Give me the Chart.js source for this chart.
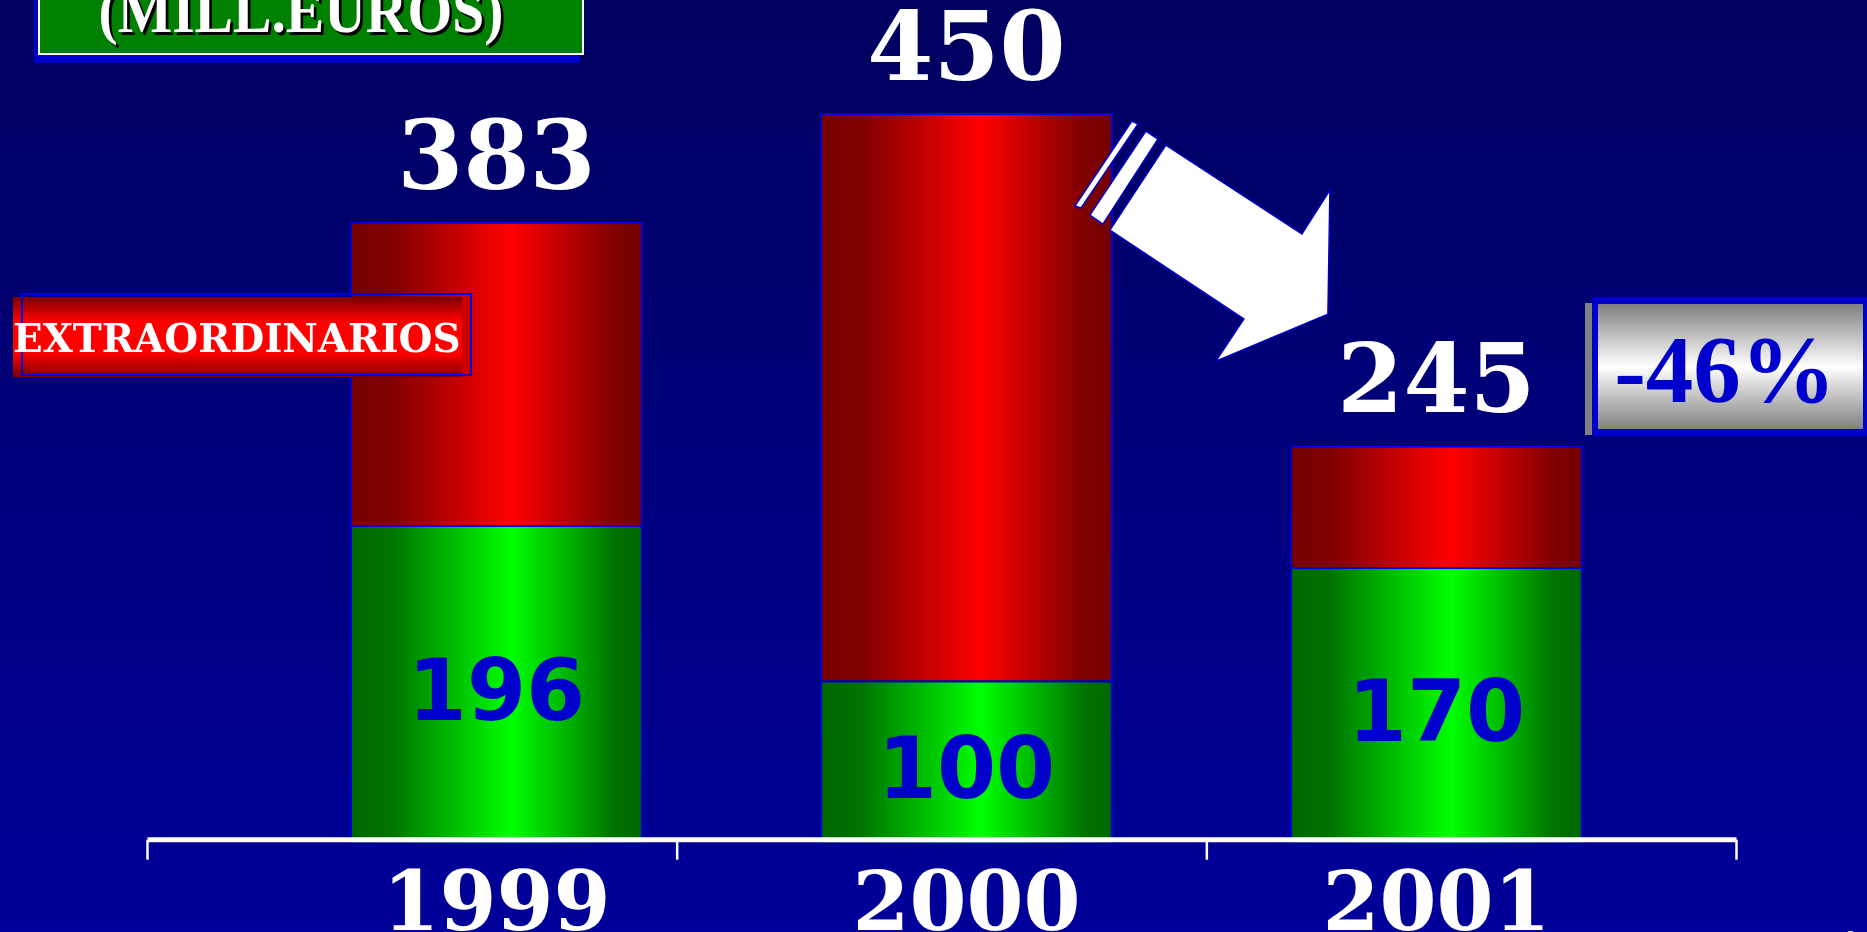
<!DOCTYPE html>
<html>
<head>
<meta charset="utf-8">
<script src="https://cdn.jsdelivr.net/npm/chart.js@4"></script>
<style>
  html, body { margin: 0; padding: 0; background: #000080; overflow: hidden; }
  canvas { display: block; }
</style>
</head>
<body>
<canvas id="chart" width="1867" height="932"></canvas>
<script>
// values (mill. euros)
const years = ['1999', '2000', '2001'];
const ordinarios = [196, 100, 170];
const extraordinarios = [187, 350, 75];
const yMax = 500;
const titleText = '(MILL.EUROS)';
const changeText = '-46%';

const barPct = 0.623;

function barGradient(context, dark, edge, bright) {
    const chart = context.chart;
    const xs = chart.scales.x;
    if (!xs || !chart.chartArea) return bright;
    const cx = xs.getPixelForValue(context.dataIndex);
    const w = xs.width / years.length * barPct;
    const g = chart.ctx.createLinearGradient(cx - w / 2, 0, cx + w / 2, 0);
    g.addColorStop(0, dark);
    g.addColorStop(0.14, edge);
    g.addColorStop(0.55, bright);
    g.addColorStop(0.9, edge);
    g.addColorStop(1, dark);
    return g;
}

const backgroundPlugin = {
    id: 'slideBackground',
    beforeDraw(chart) {
        const ctx = chart.ctx;
        const g = ctx.createLinearGradient(0, 0, 0, chart.height);
        g.addColorStop(0, '#00005f');
        g.addColorStop(1, '#00009a');
        ctx.save();
        ctx.fillStyle = g;
        ctx.fillRect(0, 0, chart.width, chart.height);
        ctx.restore();
    }
};

function polygon(ctx, ox, oy, pts) {
    ctx.beginPath();
    pts.forEach((p, i) => {
        if (i === 0) ctx.moveTo(ox + p[0], oy + p[1]);
        else ctx.lineTo(ox + p[0], oy + p[1]);
    });
    ctx.closePath();
    ctx.fill();
    ctx.stroke();
}

const decorPlugin = {
    id: 'decor',
    afterDatasetsDraw(chart) {
        const ctx = chart.ctx;
        const area = chart.chartArea;
        const green = chart.getDatasetMeta(0).data;
        const red = chart.getDatasetMeta(1).data;

        ctx.save();

        // axis line with four ticks
        const axL = area.left - 114, axR = area.right + 65;
        const axY = area.bottom - 3;
        ctx.strokeStyle = '#ffffff';
        ctx.lineWidth = 5;
        ctx.beginPath();
        ctx.moveTo(axL, axY);
        ctx.lineTo(axR, axY);
        ctx.stroke();
        ctx.lineWidth = 2.5;
        for (let i = 0; i < 4; i++) {
            const tx = axL + (axR - axL) * i / 3;
            ctx.beginPath();
            ctx.moveTo(tx, axY);
            ctx.lineTo(tx, axY + 20);
            ctx.stroke();
        }

        // totals above bars
        ctx.textAlign = 'center';
        ctx.textBaseline = 'alphabetic';
        ctx.fillStyle = '#ffffff';
        ctx.font = 'bold 95px "DejaVu Serif"';
        red.forEach((el, i) => {
            const total = ordinarios[i] + extraordinarios[i];
            ctx.fillText(String(total), el.x, el.y - 33);
        });

        // ordinary values inside green bars
        ctx.fillStyle = '#0000cc';
        ctx.font = 'bold 85px "DejaVu Sans"';
        green.forEach((el, i) => {
            ctx.fillText(String(ordinarios[i]), el.x, (el.y + el.base) / 2 + 36);
        });

        // EXTRAORDINARIOS label box
        const lg = ctx.createLinearGradient(0, 297, 0, 377);
        lg.addColorStop(0, '#780000');
        lg.addColorStop(0.3, '#ff0000');
        lg.addColorStop(0.7, '#ff0000');
        lg.addColorStop(1, '#780000');
        ctx.fillStyle = lg;
        ctx.fillRect(13, 297, 449, 80);
        ctx.strokeStyle = '#0000dd';
        ctx.lineWidth = 2;
        ctx.strokeRect(22, 294, 449, 81);
        ctx.fillStyle = '#ffffff';
        ctx.textAlign = 'left';
        let fs = 40;
        ctx.font = 'bold ' + fs + 'px "DejaVu Serif"';
        const lw = ctx.measureText(chart.data.datasets[1].label).width;
        fs = fs * 448 / lw;
        ctx.font = 'bold ' + fs.toFixed(1) + 'px "DejaVu Serif"';
        ctx.fillText(chart.data.datasets[1].label, 13, 352);

        // arrow from 2000 down to 2001
        const top2000 = red[1];
        const ox = top2000.x + top2000.width / 2;
        const oy = top2000.y;
        ctx.fillStyle = '#ffffff';
        ctx.strokeStyle = '#0000cc';
        ctx.lineWidth = 1.5;
        polygon(ctx, ox, oy, [[53, 32], [189, 121], [217, 77], [215, 201], [103, 248], [131, 206], [-3, 117]]);
        polygon(ctx, ox, oy, [[33, 18], [45, 26], [-10, 111], [-23, 102]]);
        polygon(ctx, ox, oy, [[19, 8], [25, 11], [-32, 95], [-38, 93]]);

        // -46% box
        ctx.fillStyle = '#808080';
        ctx.fillRect(1585, 303, 8, 132);
        ctx.fillStyle = '#0000cc';
        ctx.fillRect(1592, 297, 280, 139);
        const pg = ctx.createLinearGradient(0, 304, 0, 429);
        pg.addColorStop(0, '#808080');
        pg.addColorStop(0.5, '#ffffff');
        pg.addColorStop(1, '#808080');
        ctx.fillStyle = pg;
        ctx.fillRect(1598, 304, 265, 125);
        ctx.fillStyle = '#0000cc';
        ctx.textAlign = 'center';
        ctx.font = 'bold 95px "Liberation Serif"';
        ctx.fillText(changeText, 1725, 402);

        // title box (top-left), text slightly condensed
        ctx.fillStyle = '#0000cc';
        ctx.fillRect(34, -10, 546, 73);
        ctx.fillStyle = '#008000';
        ctx.fillRect(39, -10, 544, 64);
        ctx.strokeStyle = '#ffffff';
        ctx.lineWidth = 2;
        ctx.strokeRect(39, -10, 544, 64);
        ctx.save();
        ctx.translate(301, 32);
        ctx.scale(0.9, 1);
        ctx.font = 'bold 64px "Liberation Serif"';
        ctx.fillStyle = '#000000';
        ctx.fillText(titleText, 3, 3);
        ctx.fillStyle = '#ffffff';
        ctx.fillText(titleText, 0, 0);
        ctx.restore();

        // slide number, cut off at the bottom
        ctx.fillStyle = '#ffffff';
        ctx.font = 'bold 22px "Liberation Serif"';
        ctx.fillText('9', 1851, 945);

        ctx.restore();
    }
};

new Chart(document.getElementById('chart'), {
    type: 'bar',
    data: {
        labels: years,
        datasets: [
            {
                label: 'ORDINARIOS',
                data: ordinarios,
                backgroundColor: (c) => barGradient(c, '#006600', '#007400', '#00ff00'),
                borderColor: '#0000dd',
                borderWidth: 2,
                borderSkipped: 'start'
            },
            {
                label: 'EXTRAORDINARIOS',
                data: extraordinarios,
                backgroundColor: (c) => barGradient(c, '#760000', '#800000', '#ff0000'),
                borderColor: '#0000dd',
                borderWidth: 2,
                borderSkipped: 'start'
            }
        ]
    },
    options: {
        responsive: false,
        animation: false,
        events: [],
        layout: {
            padding: { left: 261.5, right: 195.5, top: 32, bottom: -34.3 }
        },
        datasets: {
            bar: { categoryPercentage: 1, barPercentage: barPct }
        },
        plugins: {
            legend: { display: false },
            tooltip: { enabled: false }
        },
        scales: {
            x: {
                stacked: true,
                grid: { display: false },
                border: { display: false },
                ticks: {
                    color: '#ffffff',
                    padding: 25,
                    maxRotation: 0,
                    autoSkip: false,
                    font: { family: 'DejaVu Serif', weight: 'bold', size: 82, lineHeight: 0.8 }
                }
            },
            y: {
                stacked: true,
                display: false,
                min: 0,
                max: yMax
            }
        }
    },
    plugins: [backgroundPlugin, decorPlugin]
});
</script>
</body>
</html>
